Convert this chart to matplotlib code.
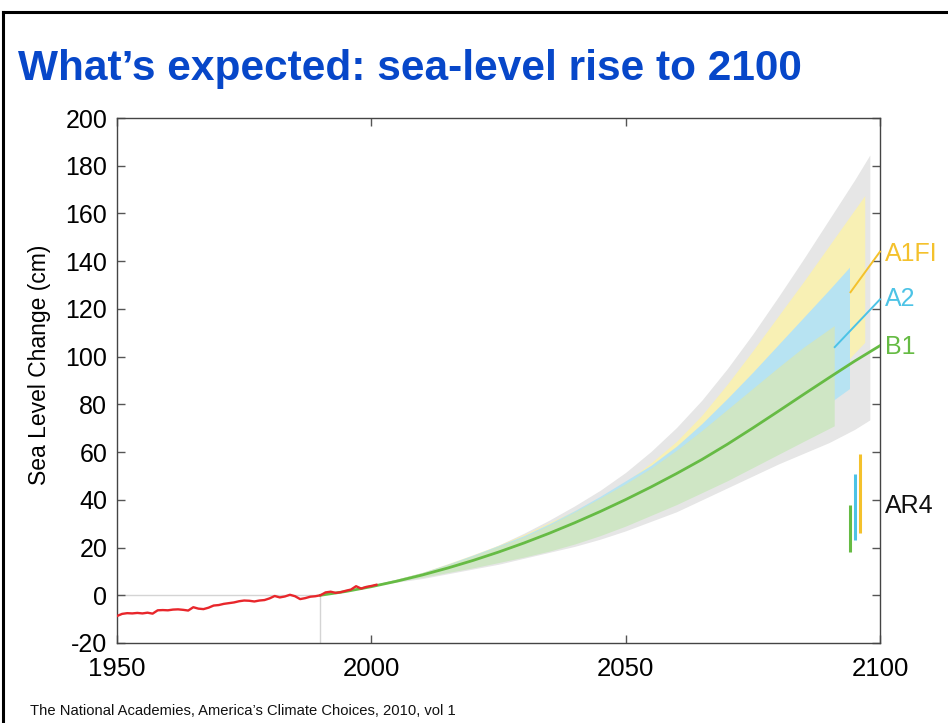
import matplotlib
matplotlib.use('Agg')
import matplotlib.pyplot as plt
from matplotlib.lines import Line2D

plt.rcParams['font.family'] = ['Liberation Sans', 'DejaVu Sans']
plt.rcParams['axes.unicode_minus'] = False

# ---------------- data ----------------
obs_years = list(range(1950, 2002))
obs_values = [-8.7, -7.8, -7.5, -7.6, -7.4, -7.6, -7.3, -7.7, -6.3, -6.2,
              -6.3, -6.0, -5.9, -6.1, -6.4, -5.0, -5.6, -5.8, -5.2, -4.3,
              -4.1, -3.6, -3.3, -3.0, -2.5, -2.2, -2.3, -2.6, -2.2, -2.0,
              -1.3, -0.3, -0.9, -0.5, 0.2, -0.4, -1.6, -1.2, -0.6, -0.4,
              0.0, 1.2, 1.5, 1.0, 1.3, 1.9, 2.4, 3.8, 2.8, 3.5,
              3.9, 4.4]

b1_line_years = [1990, 1995, 2000, 2005, 2010, 2015, 2020, 2025, 2030, 2035, 2040,
                 2045, 2050, 2055, 2060, 2065, 2070, 2075, 2080, 2085, 2090, 2095, 2100]
b1_line_values = [0, 1.6, 3.6, 5.9, 8.5, 11.4, 14.6, 18.1, 21.9, 26.0, 30.4,
                  35.1, 40.1, 45.4, 51.0, 56.9, 63.3, 70.1, 77.1, 84.2, 91.2, 98.1, 104.6]

env_years = [2001, 2005, 2010, 2015, 2020, 2025, 2030, 2035, 2040, 2045, 2050,
             2055, 2060, 2065, 2070, 2075, 2080, 2085, 2090, 2095, 2098]
env_high = [4.6, 6.5, 9.2, 12.5, 16.5, 21.0, 26.0, 31.5, 37.5, 44.0, 51.5,
            60.3, 70.3, 81.8, 95.0, 109.5, 125.0, 141.0, 157.5, 174.0, 184.5]
env_low = [4.2, 5.5, 7.0, 9.0, 11.0, 13.0, 15.5, 18.0, 20.5, 23.5, 27.0,
           31.0, 35.0, 40.0, 45.0, 50.0, 55.0, 59.5, 64.0, 69.5, 73.5]

a1fi_years = [2001, 2005, 2010, 2015, 2020, 2025, 2030, 2035, 2040, 2045, 2050,
              2055, 2060, 2065, 2070, 2075, 2080, 2085, 2090, 2095, 2097]
a1fi_high = [4.7, 6.8, 9.6, 13.2, 17.0, 21.0, 25.5, 30.5, 35.5, 41.0, 47.5,
             55.5, 64.5, 75.5, 88.5, 102.5, 117.0, 131.5, 146.5, 161.5, 167.5]
a1fi_low = [4.4, 6.0, 8.0, 10.5, 13.0, 16.0, 19.0, 22.5, 26.0, 30.5, 35.0,
            40.5, 46.0, 52.5, 59.0, 66.0, 73.0, 81.0, 90.0, 101.5, 106.0]

a2_years = [2001, 2005, 2010, 2015, 2020, 2025, 2030, 2035, 2040, 2045, 2050,
            2055, 2060, 2065, 2070, 2075, 2080, 2085, 2090, 2094]
a2_high = [4.7, 6.7, 9.5, 13.0, 16.8, 20.8, 25.0, 30.0, 35.5, 41.5, 48.0,
           54.5, 62.5, 72.0, 82.5, 93.5, 105.0, 116.5, 128.0, 137.5]
a2_low = [4.4, 6.0, 8.0, 10.0, 12.5, 15.0, 18.0, 21.0, 24.5, 28.5, 32.5,
          37.0, 42.0, 47.5, 53.0, 59.0, 65.0, 71.5, 80.5, 86.6]

b1_years = [2001, 2005, 2010, 2015, 2020, 2025, 2030, 2035, 2040, 2045, 2050,
            2055, 2060, 2065, 2070, 2075, 2080, 2085, 2091]
b1_high = [4.8, 6.8, 9.5, 12.8, 16.5, 20.5, 24.5, 29.5, 35.0, 40.8, 46.8,
           53.3, 60.8, 69.1, 77.9, 86.7, 95.5, 104.0, 113.0]
b1_low = [4.3, 5.8, 7.5, 9.5, 11.5, 13.7, 16.0, 18.5, 21.5, 25.0, 29.0,
          33.5, 38.0, 43.0, 48.0, 53.5, 59.0, 64.5, 71.0]

leader_a1fi_x = [2094.2, 2100]
leader_a1fi_y = [127, 144]
leader_a2_x = [2091.1, 2100]
leader_a2_y = [104, 124]

ar4_scenarios = ['B1', 'A2', 'A1FI']
ar4_x = [2094.1, 2095.0, 2096.1]
ar4_low = [18, 23, 26]
ar4_high = [38, 51, 59]

label_names = ['A1FI', 'A2', 'B1', 'AR4']
label_y = [143, 124, 104, 37.5]

yticks = list(range(-20, 201, 20))
xticks = [1950, 2000, 2050, 2100]

# ---------------- colours ----------------
c_gray = '#e6e6e6'
c_yellow = '#f8f0b4'
c_cyan = '#b7e3f2'
c_green = '#cfe6c5'
c_line_green = '#66bb44'
c_line_cyan = '#4cc3e6'
c_line_yellow = '#f4c12c'
c_red = '#e8262b'
label_colors = [c_line_yellow, c_line_cyan, c_line_green, '#111111']
ar4_colors = [c_line_green, c_line_cyan, c_line_yellow]

# ---------------- figure ----------------
fig = plt.figure(figsize=(9.48, 7.23), dpi=100)
ax = fig.add_axes([117/948, 1-643/723, (880-117)/948, (643-118)/723])

ax.fill_between(env_years, env_low, env_high, color=c_gray, lw=0, zorder=1)
ax.fill_between(a1fi_years, a1fi_low, a1fi_high, color=c_yellow, lw=0, zorder=2)
ax.fill_between(a2_years, a2_low, a2_high, color=c_cyan, lw=0, zorder=3)
ax.fill_between(b1_years, b1_low, b1_high, color=c_green, lw=0, zorder=4)

# reference lines
ax.plot([1950, 1990], [0, 0], color='#d4d4d4', lw=1.0, zorder=1)
ax.plot([1990, 1990], [-20, 0], color='#d4d4d4', lw=1.0, zorder=1)

ax.plot(b1_line_years, b1_line_values, color=c_line_green, lw=2.0, zorder=6)
ax.plot(obs_years, obs_values, color=c_red, lw=1.7, zorder=7)

ax.plot(leader_a1fi_x, leader_a1fi_y, color=c_line_yellow, lw=1.4, zorder=6, clip_on=False)
ax.plot(leader_a2_x, leader_a2_y, color=c_line_cyan, lw=1.4, zorder=6, clip_on=False)

for x, lo, hi, col in zip(ar4_x, ar4_low, ar4_high, ar4_colors):
    ax.plot([x, x], [lo, hi], color=col, lw=2.2, zorder=6, solid_capstyle='butt')

for name, y, col in zip(label_names, label_y, label_colors):
    ax.text(2101.0, y, name, color=col, fontsize=18, va='center', ha='left', clip_on=False)

ax.set_xlim(1950, 2100)
ax.set_ylim(-20, 200)
ax.set_xticks(xticks)
ax.set_xticklabels([str(t) for t in xticks], fontsize=18.5)
ax.set_yticks(yticks)
ax.set_yticklabels([str(t) for t in yticks], fontsize=18)
ax.tick_params(axis='both', direction='in', length=6, width=1.0, color='#555555',
               top=True, right=True, labeltop=False, labelright=False)
ax.tick_params(axis='x', pad=10)
ax.tick_params(axis='y', pad=7)
for sp in ax.spines.values():
    sp.set_color('#444444')
    sp.set_linewidth(1.0)
ax.set_ylabel('Sea Level Change (cm)', fontsize=16.5)
ax.yaxis.set_label_coords((51-117)/763, 0.53)

fig.text(18/948, 1-80/723, 'What\u2019s expected: sea-level rise to 2100', color='#0747c9',
         fontsize=30.5, fontweight='bold', ha='left', va='baseline')
fig.text(30/948, 1-715/723, 'The National Academies, America\u2019s Climate Choices, 2010, vol 1',
         fontsize=10.6, ha='left', va='baseline', color='#111111')

# slide frame
fig.add_artist(Line2D([3/948, 1], [1-12/723, 1-12/723], color='black', lw=2.2,
                      transform=fig.transFigure))
fig.add_artist(Line2D([3/948, 3/948], [0, 1-12/723], color='black', lw=2.2,
                      transform=fig.transFigure))

fig.savefig('out.png', dpi=100)
